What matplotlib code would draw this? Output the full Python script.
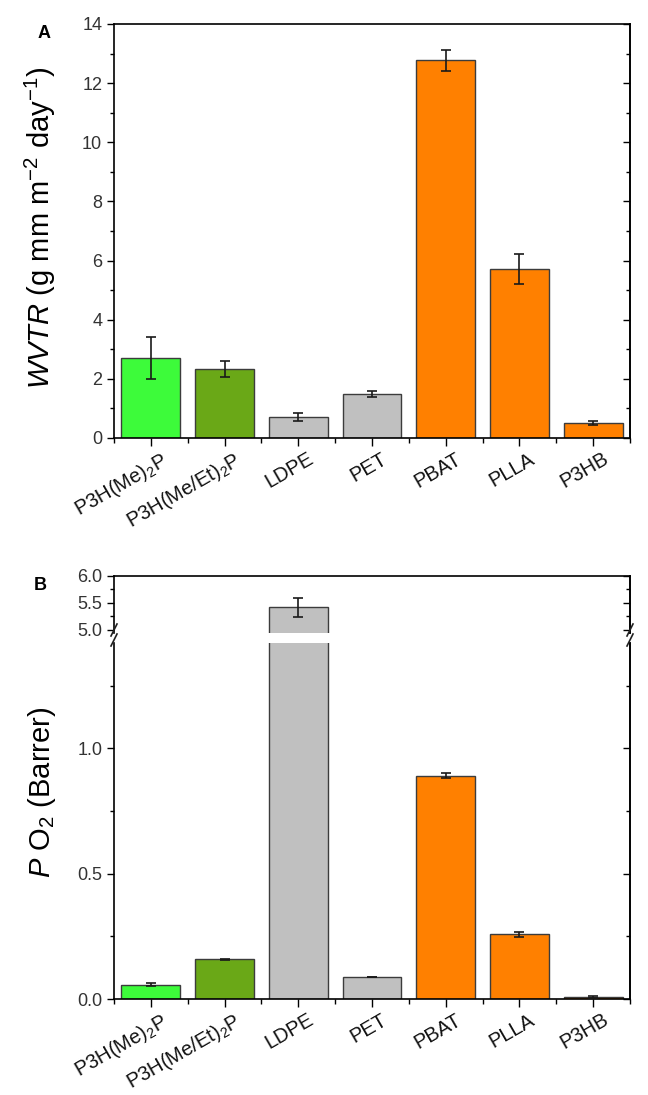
import numpy as np
import matplotlib
matplotlib.use("Agg")
from matplotlib import pyplot as plt
from matplotlib import transforms
from matplotlib.ticker import MultipleLocator, FixedLocator, FormatStrFormatter

plt.rcParams['font.family'] = ['Liberation Sans', 'DejaVu Sans']
plt.rcParams['mathtext.fontset'] = 'custom'
plt.rcParams['mathtext.rm'] = 'Liberation Sans'
plt.rcParams['mathtext.it'] = 'Liberation Sans:italic'

# data
labels = [r'P3H(Me)$_2$P', r'P3H(Me/Et)$_2$P', 'LDPE', 'PET', 'PBAT', 'PLLA', 'P3HB']
colors = ['#3dfb3a', '#6aa817', '#c0c0c0', '#c0c0c0', '#ff8000', '#ff8000', '#ff8000']

wvtr = [2.71, 2.33, 0.70, 1.49, 12.77, 5.71, 0.50]
wvtr_err = [0.71, 0.26, 0.13, 0.11, 0.35, 0.50, 0.07]

po2 = [0.057, 0.158, 5.42, 0.089, 0.89, 0.258, 0.008]
po2_err = [0.007, 0.002, 0.18, 0.0, 0.01, 0.01, 0.003]

x = np.arange(len(labels))
W, H = 648, 1095
fig = plt.figure(figsize=(W / 100, H / 100), dpi=100)


def fa(l, t, r, b):
    return fig.add_axes([l / W, 1 - b / H, (r - l) / W, (b - t) / H])


def bars(ax, vals, errs):
    ax.bar(x, vals, width=0.8, color=colors, edgecolor='#3c3c3c', linewidth=1.0, zorder=2)
    ax.errorbar(x, vals, yerr=errs, fmt='none', ecolor='#1a1a1a', elinewidth=1.2,
                capsize=3.5, capthick=1.2, zorder=3)
    ax.set_xlim(-0.5, len(labels) - 0.5)


def style_y(ax):
    ax.tick_params(axis='y', which='both', left=True, right=False, direction='out',
                   labelsize=13, labelcolor='#333333')
    ax.tick_params(axis='y', which='major', length=5, width=1)
    ax.tick_params(axis='y', which='minor', length=3, width=1)
    for s in ax.spines.values():
        s.set_linewidth(1.2)
    # right-hand ticks point inward
    ax2 = ax.secondary_yaxis('right')
    ax2.yaxis.set_major_locator(ax.yaxis.get_major_locator())
    ax2.yaxis.set_minor_locator(ax.yaxis.get_minor_locator())
    ax2.tick_params(axis='y', which='both', direction='in', labelright=False, width=1)
    ax2.tick_params(axis='y', which='major', length=5)
    ax2.tick_params(axis='y', which='minor', length=3)
    ax2.spines['right'].set_linewidth(1.2)


def style_x(ax):
    ax.set_xticks(x)
    ax.xaxis.set_minor_locator(FixedLocator(np.arange(-0.5, len(labels), 1.0)))
    ax.tick_params(axis='x', which='major', length=6, width=1, direction='out', pad=2)
    ax.tick_params(axis='x', which='minor', length=3.5, width=1, direction='out')
    ax.set_xticklabels(labels, rotation=30, ha='right', rotation_mode='anchor',
                       fontsize=14.5, color='#111111')
    shift = transforms.ScaledTranslation(9 / 100, 0, fig.dpi_scale_trans)
    for t in ax.get_xticklabels():
        t.set_transform(t.get_transform() + shift)


# panel A
axA = fa(114, 24, 630, 438)
bars(axA, wvtr, wvtr_err)
axA.set_ylim(0, 14)
axA.yaxis.set_major_locator(MultipleLocator(2))
axA.yaxis.set_minor_locator(MultipleLocator(1))
style_y(axA)
style_x(axA)
fig.text(40 / W, 1 - 228 / H, r'$WVTR$ (g mm m$^{\mathrm{-2}}$ day$^{\mathrm{-1}}$)',
         fontsize=21, rotation=90, ha='center', va='center')
fig.text(44 / W, 1 - 34 / H, 'A', fontsize=13, fontweight='bold', ha='center', va='center')

# panel B, broken axis
axBt = fa(114, 576, 630, 633)
axBb = fa(114, 643, 630, 999)
for ax in (axBt, axBb):
    bars(ax, po2, po2_err)
axBt.set_ylim(4.94, 6.0)
axBt.yaxis.set_major_locator(FixedLocator([5.0, 5.5, 6.0]))
axBt.yaxis.set_minor_locator(FixedLocator([5.25, 5.75]))
axBt.yaxis.set_major_formatter(FormatStrFormatter('%.1f'))
axBb.set_ylim(0, 1.42)
axBb.yaxis.set_major_locator(FixedLocator([0.0, 0.5, 1.0]))
axBb.yaxis.set_minor_locator(FixedLocator([0.25, 0.75, 1.25]))
axBb.yaxis.set_major_formatter(FormatStrFormatter('%.1f'))
for ax in (axBt, axBb):
    style_y(ax)
axBt.spines['bottom'].set_visible(False)
axBt.tick_params(axis='x', which='both', bottom=False, labelbottom=False)
axBb.spines['top'].set_visible(False)
style_x(axBb)

# break marks on both spines
for xs in (114, 630):
    for yb in (630, 640):
        fig.add_artist(matplotlib.lines.Line2D(
            [(xs - 3) / W, (xs + 3) / W], [1 - (yb + 6) / H, 1 - (yb - 6) / H],
            color='#222222', lw=1.2))

fig.text(42 / W, 1 - 792 / H, r'$P$ O$_2$ (Barrer)', fontsize=21, rotation=90,
         ha='center', va='center')
fig.text(40 / W, 1 - 586 / H, 'B', fontsize=13, fontweight='bold', ha='center', va='center')

fig.savefig('out.png', dpi=100)
